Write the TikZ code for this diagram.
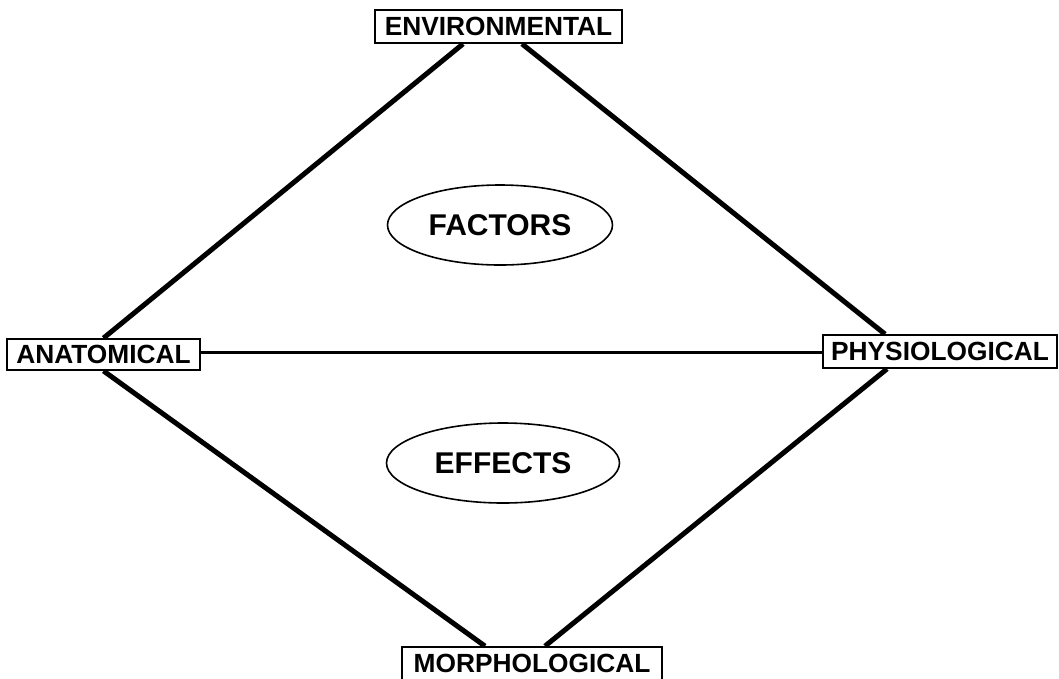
\documentclass[tikz,border=0pt]{standalone}
\usepackage{fontspec}
\setmainfont{Liberation Sans}
\usetikzlibrary{shapes.geometric}
\begin{document}
\begin{tikzpicture}[x=1pt,y=-1pt,
  labelbox/.style={draw,line width=1.8pt,inner sep=0pt,align=center,
    font=\fontsize{26.3}{30}\selectfont\bfseries},
  oval/.style={draw,ellipse,line width=1.6pt,inner sep=0pt,
    font=\fontsize{30}{34}\selectfont\bfseries},
  diag/.style={line width=5pt},
  flat/.style={line width=3pt}]
\useasboundingbox (0,0) rectangle (1059,678);
\node[labelbox,minimum width=247pt,minimum height=33pt] (env) at (498.5,26.5) {ENVIRONMENTAL};
\node[labelbox,minimum width=193pt,minimum height=31pt] (anat) at (103.5,354.5) {ANATOMICAL};
\node[labelbox,minimum width=234pt,minimum height=33pt] (phys) at (940,351.5) {PHYSIOLOGICAL};
\node[labelbox,minimum width=260pt,minimum height=33pt] (morph) at (532,663.5) {MORPHOLOGICAL};
\node[oval,minimum width=225pt,minimum height=80pt] (fac) at (500,225) {FACTORS};
\node[oval,minimum width=233pt,minimum height=80pt] (eff) at (503,463) {EFFECTS};
\draw[diag] ([xshift=-35.5pt]env.south) -- (anat.north);
\draw[diag] ([xshift=23.5pt]env.south) -- ([xshift=-55pt]phys.north);
\draw[diag] (anat.south) -- ([xshift=-47pt]morph.north);
\draw[diag] ([xshift=-53pt]phys.south) -- ([xshift=13pt]morph.north);
\draw[flat] ([yshift=2.5pt]anat.east) -- ([yshift=2.5pt]anat.east -| phys.west);
\end{tikzpicture}
\end{document}
